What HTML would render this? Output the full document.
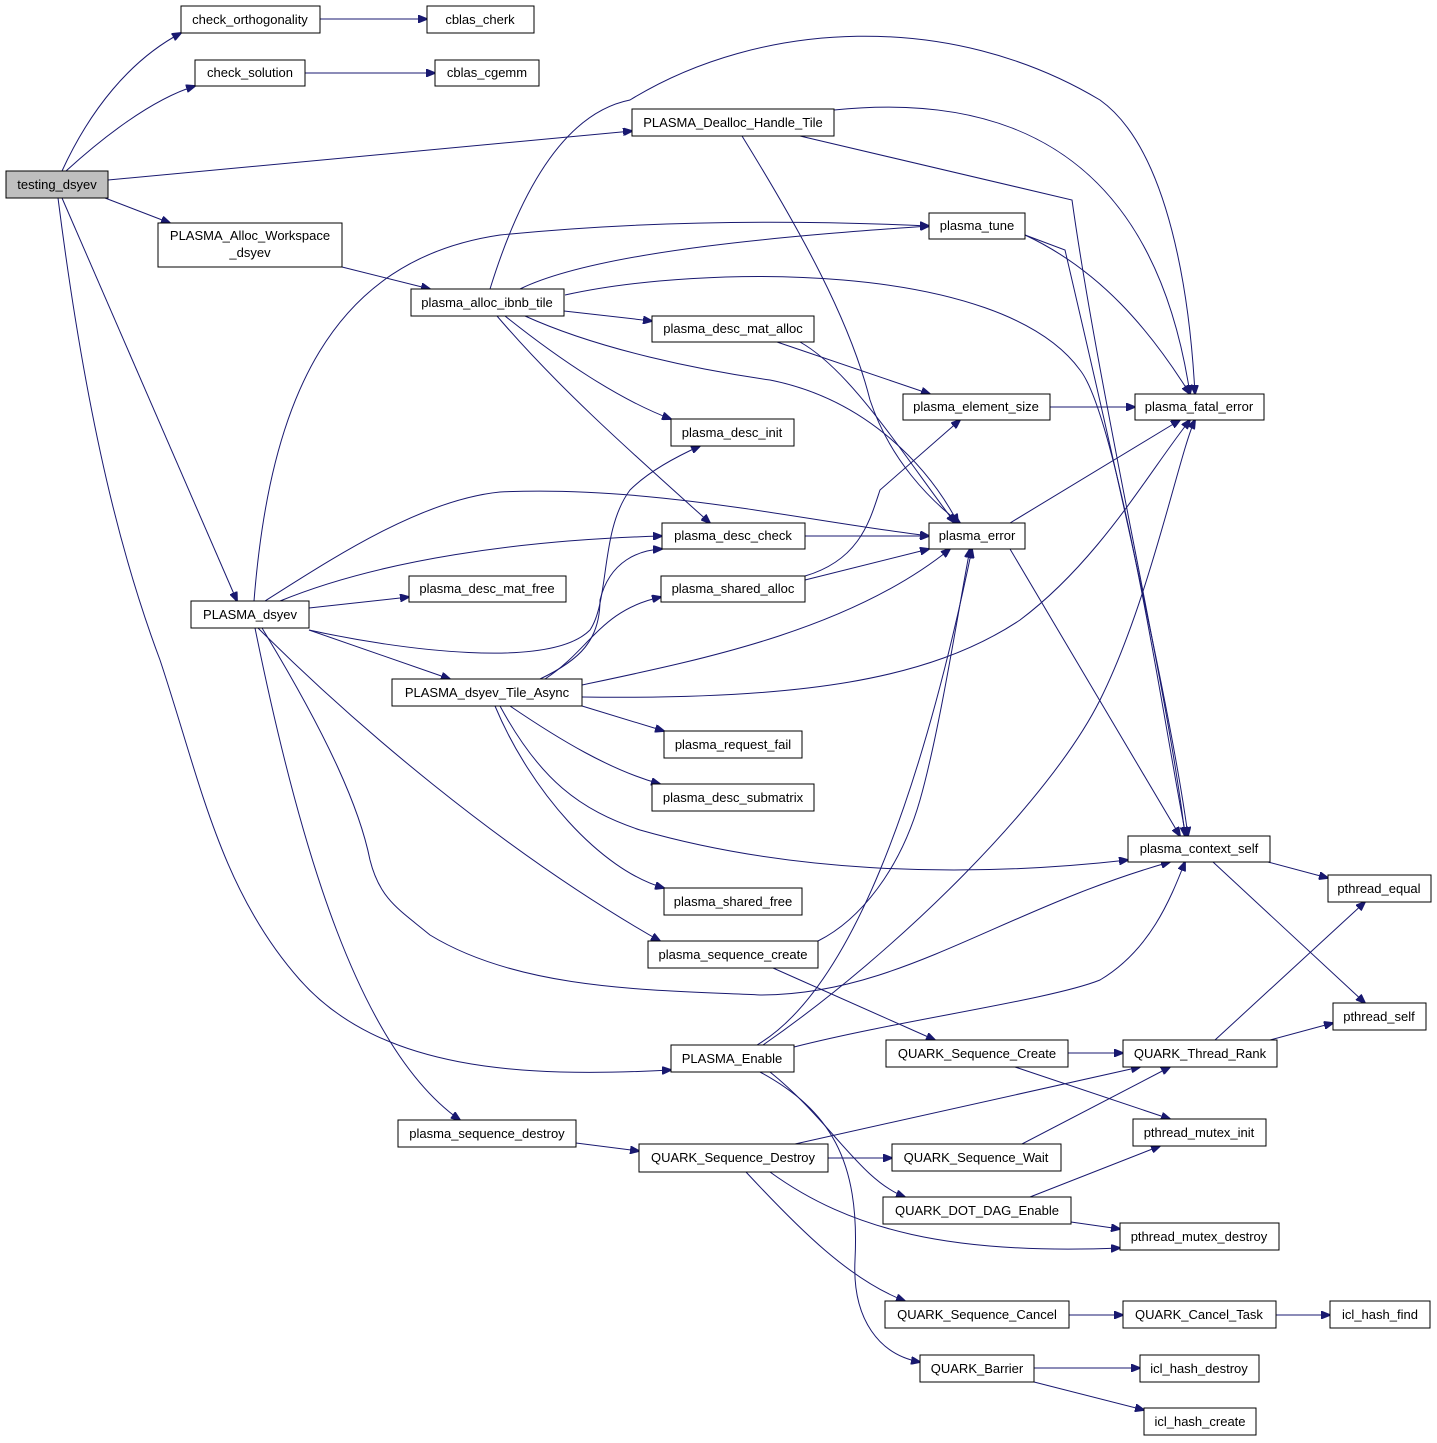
<!DOCTYPE html>
<html><head><meta charset="utf-8">
<style>
html,body{margin:0;padding:0;background:#fff;}
svg{display:block;}
text{font-family:"Liberation Sans",Helvetica,Arial,sans-serif;font-size:13px;fill:#000;}
.n{fill:#fff;stroke:#000;stroke-width:1;}
.e{fill:none;stroke:#191970;stroke-width:1;}
</style></head><body>
<svg width="1437" height="1443" viewBox="0 0 1437 1443" xmlns="http://www.w3.org/2000/svg">
<defs>
<marker id="a" markerWidth="10" markerHeight="8" refX="9" refY="4" orient="auto" markerUnits="userSpaceOnUse">
<path d="M0,0 L10,4 L0,8 z" fill="#191970" stroke="#191970"/>
</marker>
</defs>
<g marker-end="url(#a)">
<path class="e" d="M62,171 C90,110 130,60 181,33"/>
<path class="e" d="M66,171 C100,140 150,100 195,86"/>
<path class="e" d="M108,180 L632,131"/>
<path class="e" d="M105,198 L170,223"/>
<path class="e" d="M62,198 L237,601"/>
<path class="e" d="M58,198 C90,450 130,580 160,660 C200,780 220,890 300,980 C380,1070 520,1078 671,1070"/>
<path class="e" d="M320,19 L427,19"/>
<path class="e" d="M305,73 L435,73"/>
<path class="e" d="M834,110 C980,95 1150,130 1190,394"/>
<path class="e" d="M742,136 C800,230 850,320 870,400 C890,460 930,500 960,523"/>
<path class="e" d="M800,136 L1072,200 C1100,400 1170,700 1185,836"/>
<path class="e" d="M342,267 L430,289"/>
<path class="e" d="M520,289 C600,250 800,235 929,226"/>
<path class="e" d="M564,311 L652,321"/>
<path class="e" d="M505,316 C560,360 620,400 671,419"/>
<path class="e" d="M497,316 C560,390 640,460 710,523"/>
<path class="e" d="M525,316 C600,350 700,370 770,380 C870,400 930,470 958,523"/>
<path class="e" d="M565,295 C700,265 1000,260 1080,370 C1120,420 1170,760 1186,836"/>
<path class="e" d="M490,289 C530,160 580,110 630,100 C760,20 950,10 1100,100 C1170,150 1190,300 1195,394"/>
<path class="e" d="M1025,235 C1100,270 1150,330 1190,394"/>
<path class="e" d="M1025,235 L1065,250 C1100,400 1170,700 1188,836"/>
<path class="e" d="M777,342 L930,394"/>
<path class="e" d="M800,342 C850,370 900,450 955,523"/>
<path class="e" d="M1050,407 L1135,407"/>
<path class="e" d="M1010,523 L1180,420"/>
<path class="e" d="M1010,549 L1180,836"/>
<path class="e" d="M805,536 L929,536"/>
<path class="e" d="M805,580 L929,549"/>
<path class="e" d="M805,576 C860,560 870,520 880,490 L960,420"/>
<path class="e" d="M280,601 C380,560 520,540 662,536"/>
<path class="e" d="M265,601 C330,560 420,500 500,492 C650,485 800,520 929,536"/>
<path class="e" d="M309,608 L409,597"/>
<path class="e" d="M309,630 C400,650 550,670 590,630 C610,600 600,530 630,490 C650,470 680,455 700,446"/>
<path class="e" d="M309,630 L450,679"/>
<path class="e" d="M254,601 C270,400 330,260 500,235 C650,220 800,220 929,226"/>
<path class="e" d="M258,628 C350,720 500,850 660,941"/>
<path class="e" d="M255,628 C300,850 360,1050 460,1120"/>
<path class="e" d="M262,628 C330,740 360,810 370,860 C380,900 400,910 430,935 C520,990 650,990 760,995 C900,995 1000,910 1170,862"/>
<path class="e" d="M540,679 C580,660 600,640 600,600 C610,560 640,550 662,549"/>
<path class="e" d="M545,679 C590,650 600,610 661,597"/>
<path class="e" d="M582,685 C700,660 850,630 950,549"/>
<path class="e" d="M582,697 C800,700 930,680 1020,620 C1100,560 1150,470 1190,420"/>
<path class="e" d="M582,706 L664,731"/>
<path class="e" d="M510,706 C560,740 610,770 660,784"/>
<path class="e" d="M495,706 C530,790 600,870 664,888"/>
<path class="e" d="M500,706 C540,780 580,810 640,830 C780,870 950,880 1128,860"/>
<path class="e" d="M1268,862 L1328,878"/>
<path class="e" d="M1213,862 L1365,1003"/>
<path class="e" d="M818,941 C860,920 900,870 920,800 C940,730 960,600 970,549"/>
<path class="e" d="M773,968 L935,1040"/>
<path class="e" d="M757,1045 C850,990 920,800 972,549"/>
<path class="e" d="M763,1045 C900,950 1050,800 1100,700 C1150,600 1180,450 1195,420"/>
<path class="e" d="M794,1047 C900,1020 1050,1000 1100,980 C1150,950 1170,900 1185,862"/>
<path class="e" d="M760,1072 C830,1110 860,1160 855,1260 C852,1320 880,1355 920,1362"/>
<path class="e" d="M770,1072 C830,1120 860,1180 905,1197"/>
<path class="e" d="M1068,1053 L1123,1053"/>
<path class="e" d="M1015,1067 L1170,1119"/>
<path class="e" d="M1215,1040 L1365,902"/>
<path class="e" d="M1270,1040 L1333,1023"/>
<path class="e" d="M576,1143 L639,1151"/>
<path class="e" d="M795,1144 L1140,1067"/>
<path class="e" d="M828,1158 L892,1158"/>
<path class="e" d="M770,1172 C850,1230 950,1255 1120,1248"/>
<path class="e" d="M746,1172 C800,1230 850,1280 905,1301"/>
<path class="e" d="M1022,1144 L1170,1067"/>
<path class="e" d="M1030,1197 L1160,1146"/>
<path class="e" d="M1071,1222 L1120,1229"/>
<path class="e" d="M1069,1315 L1123,1315"/>
<path class="e" d="M1276,1315 L1330,1315"/>
<path class="e" d="M1034,1368 L1140,1368"/>
<path class="e" d="M1034,1382 L1144,1410"/>
</g>
<g text-anchor="middle">
<rect x="6" y="171" width="102" height="27" fill="#bfbfbf" stroke="#000"/><text x="57" y="189">testing_dsyev</text>
<rect class="n" x="181" y="6" width="139" height="27"/><text x="250" y="24">check_orthogonality</text>
<rect class="n" x="427" y="6" width="107" height="27"/><text x="480" y="24">cblas_cherk</text>
<rect class="n" x="195" y="60" width="110" height="26"/><text x="250" y="77">check_solution</text>
<rect class="n" x="435" y="60" width="104" height="26"/><text x="487" y="77">cblas_cgemm</text>
<rect class="n" x="632" y="109" width="202" height="27"/><text x="733" y="127">PLASMA_Dealloc_Handle_Tile</text>
<rect class="n" x="158" y="223" width="184" height="44"/><text x="250" y="240">PLASMA_Alloc_Workspace</text><text x="250" y="257">_dsyev</text>
<rect class="n" x="929" y="213" width="96" height="26"/><text x="977" y="230">plasma_tune</text>
<rect class="n" x="411" y="289" width="153" height="27"/><text x="487" y="307">plasma_alloc_ibnb_tile</text>
<rect class="n" x="652" y="316" width="162" height="26"/><text x="733" y="333">plasma_desc_mat_alloc</text>
<rect class="n" x="903" y="394" width="147" height="26"/><text x="976" y="411">plasma_element_size</text>
<rect class="n" x="1135" y="394" width="129" height="26"/><text x="1199" y="411">plasma_fatal_error</text>
<rect class="n" x="671" y="419" width="123" height="27"/><text x="732" y="437">plasma_desc_init</text>
<rect class="n" x="662" y="523" width="143" height="26"/><text x="733" y="540">plasma_desc_check</text>
<rect class="n" x="929" y="523" width="96" height="26"/><text x="977" y="540">plasma_error</text>
<rect class="n" x="661" y="576" width="144" height="26"/><text x="733" y="593">plasma_shared_alloc</text>
<rect class="n" x="409" y="576" width="157" height="26"/><text x="487" y="593">plasma_desc_mat_free</text>
<rect class="n" x="191" y="601" width="118" height="27"/><text x="250" y="619">PLASMA_dsyev</text>
<rect class="n" x="392" y="679" width="190" height="27"/><text x="487" y="697">PLASMA_dsyev_Tile_Async</text>
<rect class="n" x="664" y="731" width="138" height="27"/><text x="733" y="749">plasma_request_fail</text>
<rect class="n" x="652" y="784" width="162" height="27"/><text x="733" y="802">plasma_desc_submatrix</text>
<rect class="n" x="1128" y="836" width="142" height="26"/><text x="1199" y="853">plasma_context_self</text>
<rect class="n" x="1328" y="875" width="103" height="27"/><text x="1379" y="893">pthread_equal</text>
<rect class="n" x="664" y="888" width="138" height="27"/><text x="733" y="906">plasma_shared_free</text>
<rect class="n" x="648" y="941" width="170" height="27"/><text x="733" y="959">plasma_sequence_create</text>
<rect class="n" x="1333" y="1003" width="93" height="27"/><text x="1379" y="1021">pthread_self</text>
<rect class="n" x="886" y="1040" width="182" height="27"/><text x="977" y="1058">QUARK_Sequence_Create</text>
<rect class="n" x="1123" y="1040" width="154" height="27"/><text x="1200" y="1058">QUARK_Thread_Rank</text>
<rect class="n" x="671" y="1045" width="123" height="27"/><text x="732" y="1063">PLASMA_Enable</text>
<rect class="n" x="398" y="1120" width="178" height="27"/><text x="487" y="1138">plasma_sequence_destroy</text>
<rect class="n" x="1133" y="1119" width="133" height="27"/><text x="1199" y="1137">pthread_mutex_init</text>
<rect class="n" x="639" y="1144" width="189" height="28"/><text x="733" y="1162">QUARK_Sequence_Destroy</text>
<rect class="n" x="892" y="1144" width="169" height="27"/><text x="976" y="1162">QUARK_Sequence_Wait</text>
<rect class="n" x="883" y="1197" width="188" height="27"/><text x="977" y="1215">QUARK_DOT_DAG_Enable</text>
<rect class="n" x="1120" y="1223" width="159" height="27"/><text x="1199" y="1241">pthread_mutex_destroy</text>
<rect class="n" x="885" y="1301" width="184" height="27"/><text x="977" y="1319">QUARK_Sequence_Cancel</text>
<rect class="n" x="1123" y="1301" width="153" height="27"/><text x="1199" y="1319">QUARK_Cancel_Task</text>
<rect class="n" x="1330" y="1301" width="100" height="27"/><text x="1380" y="1319">icl_hash_find</text>
<rect class="n" x="920" y="1355" width="114" height="27"/><text x="977" y="1373">QUARK_Barrier</text>
<rect class="n" x="1140" y="1355" width="119" height="27"/><text x="1199" y="1373">icl_hash_destroy</text>
<rect class="n" x="1144" y="1408" width="112" height="27"/><text x="1200" y="1426">icl_hash_create</text>
</g>
</svg>
</body></html>
